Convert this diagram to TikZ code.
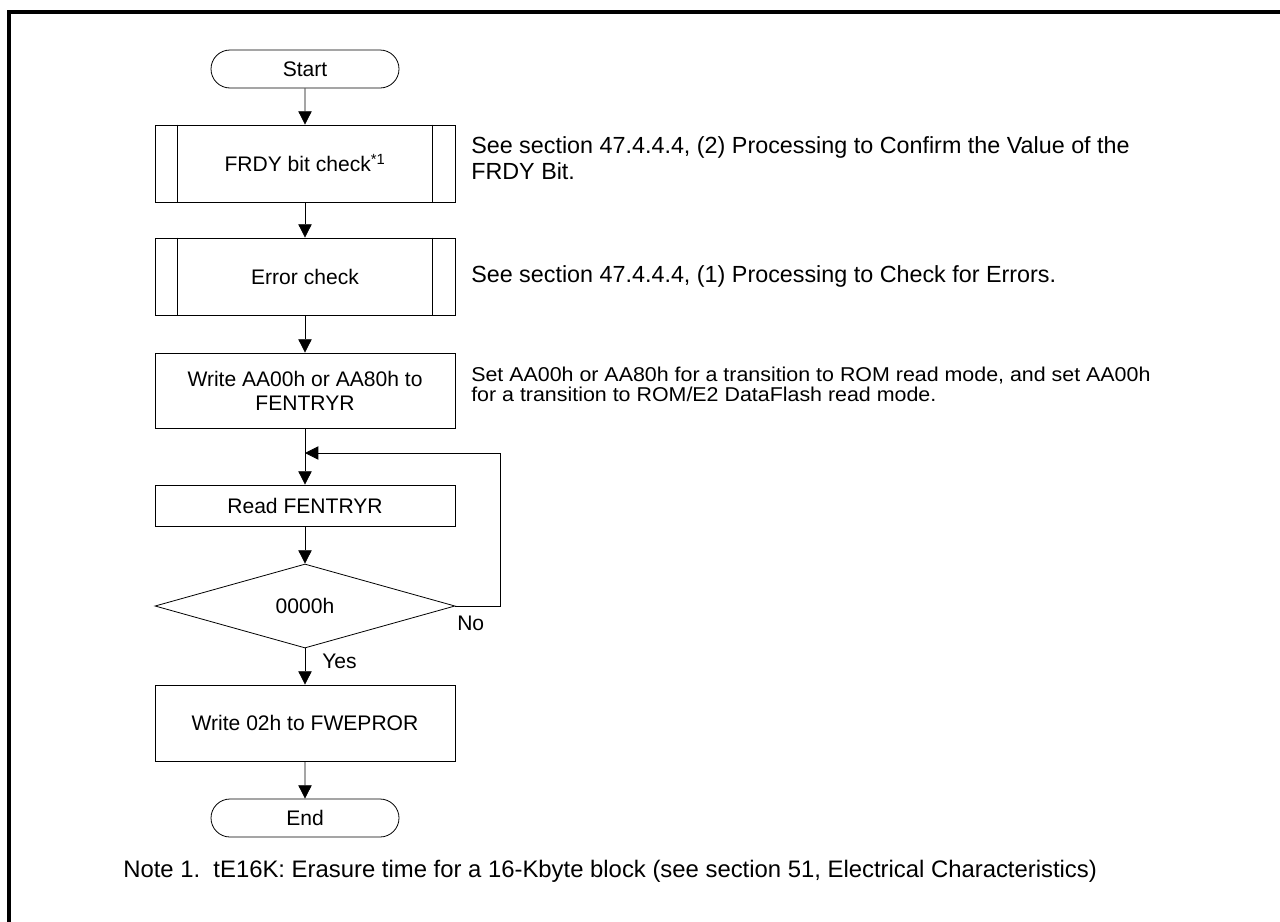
\documentclass[tikz,border=0pt]{standalone}
\usepackage{fontspec}
\setmainfont{Liberation Sans}
\newfontfamily\widesans[FakeStretch=1.07]{Liberation Sans}
\usetikzlibrary{shapes.geometric,shapes.misc,arrows.meta,positioning,calc}

\newcommand{\boxfont}{\fontsize{15.8}{18}\selectfont}
\newcommand{\annfont}{\fontsize{17.5}{19.5}\selectfont}
\newcommand{\smallann}{\widesans\fontsize{15}{15}\selectfont}
\newcommand{\notefont}{\fontsize{17.9}{20}\selectfont}

\tikzset{
  term/.style  = {rounded rectangle, draw, line width=0.6pt, minimum width=141pt,
                  minimum height=28.5pt, inner sep=0pt, font=\boxfont},
  proc/.style  = {rectangle, draw, line width=0.6pt, minimum width=225pt,
                  minimum height=#1, align=center, inner sep=0pt, font=\boxfont},
  proc/.default = 57pt,
  sub/.style   = {proc=57.75pt},
  dec/.style   = {diamond, draw, line width=0.6pt, minimum width=225pt,
                  minimum height=63pt, inner sep=0pt, font=\boxfont},
  fl/.style    = {-{Triangle[length=10pt,width=10pt]}, line width=0.6pt},
  ann/.style   = {anchor=west, align=left, inner sep=0pt, font=\annfont},
  sann/.style  = {anchor=west, align=left, inner sep=0pt, font=\smallann},
  lab/.style   = {anchor=west, inner sep=0pt, font=\boxfont},
}

\begin{document}
\begin{tikzpicture}[x=0.75pt, y=-0.75pt]
  \useasboundingbox (0,0) rectangle (1280,921);
  \clip (0,0) rectangle (1280,921);
  \draw[line width=3pt] (9,940) -- (9,12) -- (1300,12);

  % flow
  \node[term] (start) at (305,69) {Start};
  \node[sub] (frdy) at (305,163.5) {FRDY bit check\textsuperscript{*1}};
  \node[sub] (err) at (305,276.5) {Error check};
  \node[proc=56.25pt] (wr) at (305,390.5) {Write AA00h or AA80h to\\FENTRYR};
  \node[proc=30.75pt] (rd) at (305,505.5) {Read FENTRYR};
  \node[dec] (chk) at (305,606) {0000h};
  \node[proc] (wfw) at (305,723) {Write 02h to FWEPROR};
  \node[term] (end) at (305,818) {End};

  \foreach \n in {frdy,err}
    \draw[line width=0.6pt] ([xshift=17.25pt]\n.north west) -- ([xshift=17.25pt]\n.south west)
      ([xshift=-17.25pt]\n.north east) -- ([xshift=-17.25pt]\n.south east);

  \draw[fl] (start) -- (frdy);
  \draw[fl] (frdy) -- (err);
  \draw[fl] (err) -- (wr);
  \draw[fl] (wr) -- (rd);
  \draw[fl] (rd) -- (chk);
  \draw[fl] (chk) -- (wfw);
  \draw[fl] (wfw) -- (end);

  % loop back
  \coordinate (jn) at (305,453);
  \draw[fl] (chk.east) -- ++(45,0) |- (jn);
  \node[lab] (no) at (457,623) {No};
  \node[lab] (yes) at (322,661) {Yes};

  % notes on the right
  \node[ann] (n1) at (471,158) {See section 47.4.4.4, (2) Processing to Confirm the Value of the\\FRDY Bit.};
  \node[ann] (n2) at (471,276) {See section 47.4.4.4, (1) Processing to Check for Errors.};
  \node[sann] (n3) at (471,384) {Set AA00h or AA80h for a transition to ROM read mode, and set AA00h\\for a transition to ROM/E2 DataFlash read mode.};

  \node[lab, font=\notefont] (note) at (123,871) {Note 1.\ \ tE16K: Erasure time for a 16-Kbyte block (see section 51, Electrical Characteristics)};
\end{tikzpicture}
\end{document}
